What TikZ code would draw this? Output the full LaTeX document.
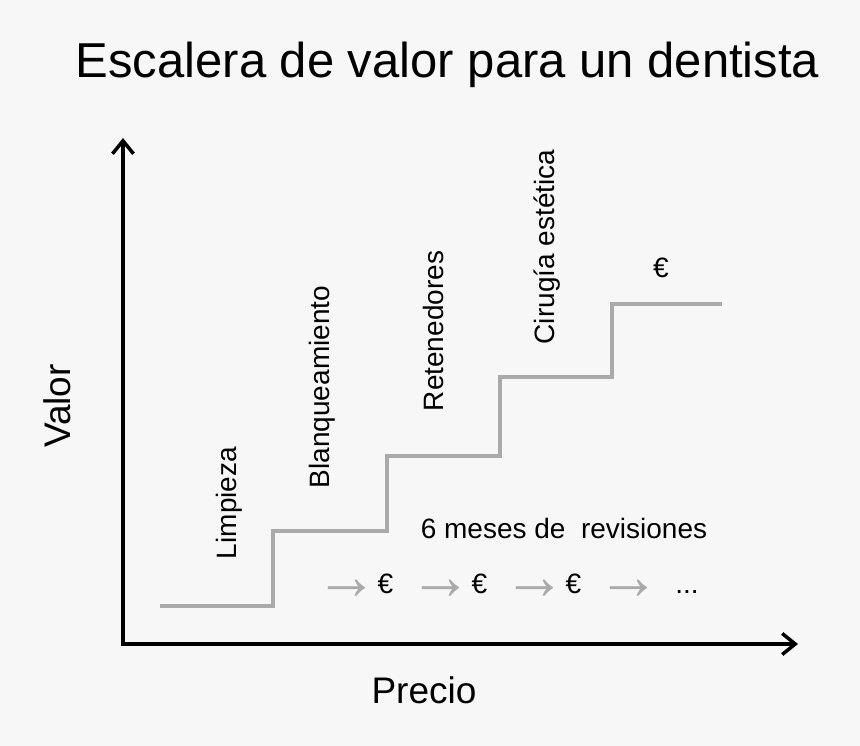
\documentclass[tikz,border=0pt]{standalone}
\usepackage{fontspec}
\setmainfont{Liberation Sans}
\usetikzlibrary{arrows.meta}
\definecolor{stairgray}{HTML}{AAAAAA}
\definecolor{bggray}{HTML}{F7F7F7}

\begin{document}
\begin{tikzpicture}[x=1pt,y=-1pt,
    axis/.style={line width=3.5pt,{Straight Barb[length=13pt,width=21pt]}-{Straight Barb[length=13pt,width=21pt]}},
    stair/.style={line width=3.5pt,stairgray},
    lbl/.style={font=\fontsize{28}{34}\selectfont,inner sep=0pt,anchor=base},
    vlbl/.style={lbl,rotate=90},
    big/.style={font=\fontsize{37}{44}\selectfont,inner sep=0pt,anchor=base},
    arr/.style={font=\fontsize{38}{40}\selectfont,text=stairgray,inner sep=0pt,anchor=center}]
      \fill[bggray] (0,0) rectangle (860,746);

      \coordinate (O) at (123,644);
      \coordinate (Y) at (123,138);
      \coordinate (X) at (798,644);

      \draw[axis] (Y) -- (O) -- (X);

      % escalera
      \coordinate (s0) at (160,606);
      \coordinate (s1) at (273,531);
      \coordinate (s2) at (387,456);
      \coordinate (s3) at (500,377);
      \coordinate (s4) at (612,304);
      \coordinate (s5) at (722,304);
      \draw[stair] (s0) -| (s1) -| (s2) -| (s3) -| (s4) -- (s5);

      \node[anchor=base,inner sep=0pt,font=\fontsize{49}{58}\selectfont] (title) at (447.5,78) {Escalera de valor para un dentista};
      \node[big,rotate=90] (valor) at (70,406) {Valor};
      \node[big] (precio) at (424,703) {Precio};

      \node[vlbl] (limpieza) at (236,503) {Limpieza};
      \node[vlbl] (blanq) at (329,387) {Blanqueamiento};
      \node[vlbl] (reten) at (443,331) {Retenedores};
      \node[vlbl] (cirugia) at (554,247) {Cirugía estética};
      \node[lbl] (top) at (661,278) {€};

      \node[lbl] (meses) at (564,538) {6 meses de\ \ revisiones};
      \foreach \i in {0,1,2} {
        \node[arr] (a\i) at (347+94*\i,589.5) {\makebox[34pt]{\scalebox{1.65}[1.8]{→}}};
        \node[lbl] (e\i) at (385.5+94*\i,593) {€};
      }
      \node[arr] (a3) at (629,589.5) {\makebox[34pt]{\scalebox{1.65}[1.8]{→}}};
      \node[lbl] (dots) at (687,593) {...};
    \end{tikzpicture}
\end{document}
